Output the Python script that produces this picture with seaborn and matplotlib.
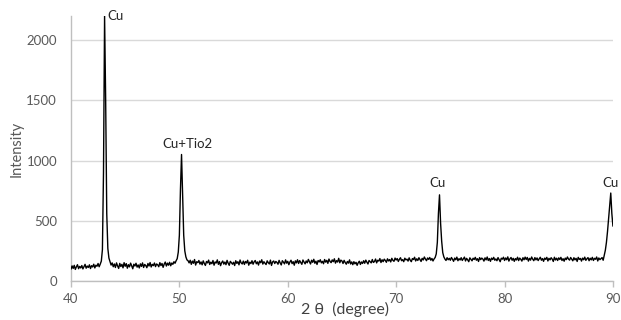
import numpy as np
import pandas as pd
import seaborn as sns
import matplotlib
matplotlib.use("Agg")
import matplotlib.pyplot as plt

# 2-theta sampling positions (0.1 degree steps, 40..90)
two_theta = np.round(np.linspace(40, 90, 501), 1)

# Intensity values, one row per degree
intensity = [
    98, 125, 104, 130, 96, 118, 135, 102, 121, 108,
    128, 100, 119, 138, 106, 124, 112, 134, 103, 127,
    116, 139, 108, 131, 122, 145, 118, 140, 165, 260,
    900, 2200, 1500, 560, 270, 190, 160, 132, 150, 118,
    141, 112, 150, 125, 104, 146, 120, 138, 109, 152,
    122, 144, 106, 135, 117, 148, 126, 101, 139, 124,
    147, 115, 133, 108, 142, 121, 150, 112, 137, 128,
    110, 145, 124, 153, 116, 138, 127, 149, 119, 141,
    134, 118, 152, 128, 145, 113, 140, 157, 124, 148,
    131, 155, 126, 149, 138, 160, 147, 168, 185, 240,
    380, 760, 1050, 720, 380, 250, 200, 175, 168, 150,
    172, 138, 165, 147, 178, 132, 160, 152, 170, 140,
    158, 134, 167, 145, 129, 162, 150, 173, 137, 156,
    143, 170, 131, 158, 149, 175, 138, 161, 127, 152,
    166, 140, 157, 135, 171, 148, 130, 163, 152, 139,
    155, 128, 168, 146, 160, 134, 174, 150, 141, 165,
    137, 162, 149, 172, 131, 156, 144, 168, 139, 159,
    170, 143, 158, 132, 165, 151, 176, 140, 160, 147,
    136, 167, 152, 141, 173, 129, 158, 166, 145, 162,
    154, 139, 171, 150, 133, 168, 156, 142, 175, 148,
    163, 135, 158, 172, 144, 160, 131, 167, 150, 176,
    145, 169, 153, 138, 174, 157, 142, 166, 151, 179,
    160, 141, 172, 155, 180, 147, 164, 137, 170, 158,
    176, 150, 163, 143, 178, 156, 171, 146, 182, 162,
    152, 175, 160, 184, 148, 169, 157, 188, 151, 173,
    166, 145, 171, 153, 139, 162, 148, 175, 141, 158,
    135, 160, 142, 155, 130, 151, 164, 137, 158, 145,
    168, 147, 173, 156, 141, 170, 160, 150, 178, 154,
    161, 182, 150, 172, 165, 186, 153, 176, 160, 181,
    170, 155, 184, 166, 178, 158, 188, 171, 163, 190,
    174, 186, 162, 180, 193, 168, 177, 160, 189, 175,
    181, 165, 192, 172, 160, 186, 178, 197, 166, 184,
    170, 193, 177, 162, 188, 174, 199, 182, 168, 191,
    179, 195, 172, 187, 166, 183, 195, 225, 320, 560,
    715, 480, 330, 235, 200, 182, 170, 193, 176, 188,
    172, 195, 180, 163, 190, 176, 198, 168, 185, 174,
    193, 170, 184, 198, 166, 188, 175, 160, 192, 180,
    167, 189, 178, 196, 172, 185, 162, 194, 177, 190,
    182, 165, 192, 175, 199, 170, 186, 163, 190, 178,
    196, 172, 183, 168, 194, 177, 160, 189, 181, 197,
    170, 191, 176, 200, 165, 184, 195, 172, 188, 163,
    186, 174, 197, 169, 190, 180, 165, 193, 176, 198,
    178, 195, 165, 188, 173, 199, 181, 168, 194, 175,
    191, 169, 184, 197, 172, 186, 163, 190, 179, 196,
    166, 188, 175, 193, 181, 162, 197, 174, 189, 170,
    192, 178, 196, 170, 185, 164, 190, 177, 199, 182,
    173, 195, 181, 167, 193, 175, 188, 162, 196, 179,
    187, 165, 190, 176, 198, 171, 184, 194, 168, 189,
    175, 196, 170, 188, 180, 199, 166, 191, 177, 185,
    194, 172, 215, 255, 320, 410, 520, 640, 730, 560,
    455,
]

# Peak labels
peak_labels = ["Cu", "Cu+Tio2", "Cu", "Cu"]
label_x = [43.4, 50.7, 73.85, 89.8]
label_y = [2200, 1140, 815, 815]
label_ha = ["left", "center", "center", "center"]

x_ticks = [40, 50, 60, 70, 80, 90]
y_ticks = [0, 500, 1000, 1500, 2000]

sns.set_theme(style="white")
plt.rcParams["font.family"] = ["Lato", "DejaVu Sans"]

df = pd.DataFrame({"two_theta": two_theta, "intensity": intensity})

fig = plt.figure(figsize=(6.21, 3.2), dpi=100)
ax = fig.add_axes([0.1143, 0.122, 0.8727, 0.828])

sns.lineplot(data=df, x="two_theta", y="intensity", ax=ax,
             color="black", linewidth=1.0, zorder=3)

ax.set_xlim(40, 90)
ax.set_ylim(0, 2200)
ax.set_xticks(x_ticks)
ax.set_yticks(y_ticks)
ax.grid(axis="y", color="#d9d9d9", linewidth=1)
ax.grid(axis="x", visible=False)

for s in ["top", "right"]:
    ax.spines[s].set_visible(False)
ax.spines["left"].set_color("#bfbfbf")
ax.spines["bottom"].set_color("#bfbfbf")
ax.spines["left"].set_linewidth(1)
ax.spines["bottom"].set_linewidth(1)

ax.tick_params(axis="x", bottom=True, direction="out", length=4, width=1,
               color="#bfbfbf", labelcolor="#595959", labelsize=9.5, pad=5)
ax.tick_params(axis="y", left=True, direction="out", length=0,
               labelcolor="#595959", labelsize=9.5, pad=10)

ax.set_xlabel("2 θ  (degree)", fontsize=11.5, color="#404040")
ax.xaxis.set_label_coords(0.506, -0.078)
ax.set_ylabel("Intensity", fontsize=10.5, color="#595959", labelpad=2)

for txt, xx, yy, ha in zip(peak_labels, label_x, label_y, label_ha):
    ax.text(xx, yy, txt, ha=ha, va="center", fontsize=9.5, color="#262626",
            clip_on=False, zorder=4)

fig.savefig("out.png", dpi=100)
